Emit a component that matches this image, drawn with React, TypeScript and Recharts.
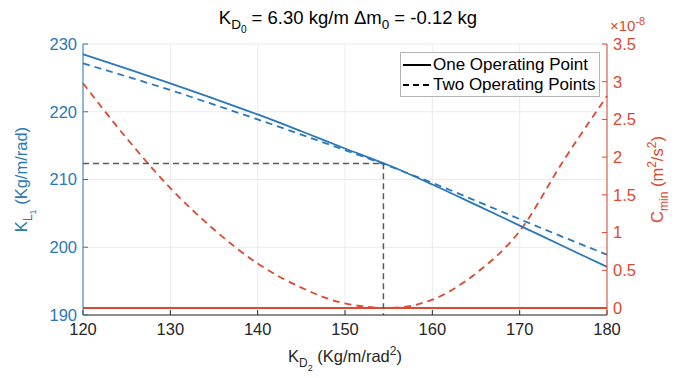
import React from 'react';
import {
  ComposedChart,
  Line,
  XAxis,
  YAxis,
  CartesianGrid,
  Legend,
  Label,
} from 'recharts';

const FONT = '"Liberation Sans", Arial, Helvetica, sans-serif';
const BLUE = '#2a78b8';
const RED = '#de4830';
const INK = '#262626';

// K_D2 samples (Kg/m/rad^2)
const kd2 = [120, 125, 130, 135, 140, 145, 150, 155, 160, 165, 170, 175, 180];
// K_L1 for one operating point (solid blue)
const kl1One = [228.48, 226.38, 224.19, 221.93, 219.6, 217.12, 214.58, 212.1, 209.26, 206.25, 203.2, 200.15, 197.1];
// K_L1 for two operating points (dashed blue)
const kl1Two = [227.15, 225.2, 223.2, 221.05, 218.87, 216.62, 214.33, 212.0, 209.5, 206.85, 204.15, 201.5, 198.9];
// C_min (x1e-8 m^2/s^2) one operating point (solid red)
const cminOne = [0, 0, 0, 0, 0, 0, 0, 0, 0, 0, 0, 0, 0];
// C_min (x1e-8 m^2/s^2) two operating points (dashed red)
const cminTwo = [2.98, 2.25, 1.59, 1.04, 0.59, 0.27, 0.06, 0.0, 0.11, 0.46, 1.02, 1.95, 2.81];

const xTicks = [120, 130, 140, 150, 160, 170, 180];
const leftTicks = [190, 200, 210, 220, 230];
const rightTicks = [0, 0.5, 1, 1.5, 2, 2.5, 3, 3.5];
const leftDomain = [190, 230];
const rightDomain = [-0.093, 3.5];

// operating point marker
const opKd2 = 154.4;
const opKl1 = 212.35;

const chartData = kd2.map((x, i) => ({
  x,
  one: kl1One[i],
  two: kl1Two[i],
  cOne: cminOne[i],
  cTwo: cminTwo[i],
}));

const opData = [
  { x: kd2[0], y: opKl1 },
  { x: opKd2, y: opKl1 },
  { x: opKd2, y: leftDomain[0] },
];

const XTitle = (props: any) => {
  const vb = props.viewBox || { x: 83, y: 315, width: 524, height: 63 };
  const cx = vb.x + vb.width / 2;
  const y = vb.y + 47;
  return (
    <g>
      <text x={cx} y={y} textAnchor="middle" fontSize={16.5} fill={INK} fontFamily={FONT}>
        K<tspan fontSize={12} dy={5}>D</tspan>
        <tspan fontSize={9} dy={4}>2</tspan>
        <tspan fontSize={16.5} dy={-9}>{'\u00a0(Kg/m/rad'}</tspan>
        <tspan fontSize={12} dy={-7}>2</tspan>
        <tspan fontSize={16.5} dy={7}>)</tspan>
      </text>
      <text x={cx + 3} y={24} textAnchor="middle" fontSize={18.5} fill="#000" fontFamily={FONT}>
        K<tspan fontSize={13.5} dy={5}>D</tspan>
        <tspan fontSize={10} dy={4}>0</tspan>
        <tspan fontSize={18.5} dy={-9}>{'\u00a0= 6.30 kg/m \u0394m'}</tspan>
        <tspan fontSize={13.5} dy={5}>0</tspan>
        <tspan fontSize={18.5} dy={-5}>{'\u00a0= -0.12 kg'}</tspan>
      </text>
    </g>
  );
};

const LeftTitle = (props: any) => {
  const vb = props.viewBox || { x: 0, y: 44, width: 83, height: 271 };
  const cy = vb.y + vb.height / 2;
  const bx = vb.x + 27;
  return (
    <text
      x={bx}
      y={cy}
      transform={`rotate(-90 ${bx} ${cy})`}
      textAnchor="middle"
      fontSize={16.5}
      fill={BLUE}
      fontFamily={FONT}
    >
      K<tspan fontSize={12} dy={5}>L</tspan>
      <tspan fontSize={9} dy={4}>1</tspan>
      <tspan fontSize={16.5} dy={-9}>{'\u00a0(Kg/m/rad)'}</tspan>
    </text>
  );
};

const RightTitle = (props: any) => {
  const vb = props.viewBox || { x: 607, y: 44, width: 90, height: 271 };
  const cy = vb.y + vb.height / 2;
  const bx = vb.x + 56;
  return (
    <g>
      <text
        x={bx}
        y={cy}
        transform={`rotate(-90 ${bx} ${cy})`}
        textAnchor="middle"
        fontSize={16.5}
        fill={RED}
        fontFamily={FONT}
      >
        C<tspan fontSize={12} dy={5}>min</tspan>
        <tspan fontSize={16.5} dy={-5}>{'\u00a0(m'}</tspan>
        <tspan fontSize={12} dy={-7}>2</tspan>
        <tspan fontSize={16.5} dy={7}>/s</tspan>
        <tspan fontSize={12} dy={-7}>2</tspan>
        <tspan fontSize={16.5} dy={7}>)</tspan>
      </text>
      <text x={vb.x + 3} y={vb.y - 13} fontSize={15} fill={RED} fontFamily={FONT}>
        ×10<tspan fontSize={11} dy={-6}>-8</tspan>
      </text>
    </g>
  );
};

const legendItems = [
  { label: 'One Operating Point', dash: undefined as string | undefined },
  { label: 'Two Operating Points', dash: '6 4' },
];

const LegendBox = () => (
  <div
    style={{
      width: 200,
      height: 45,
      boxSizing: 'border-box',
      border: '1px solid #b4b4b4',
      background: '#fff',
      fontFamily: FONT,
      fontSize: 17,
      color: '#000',
      paddingTop: 2,
    }}
  >
    {legendItems.map((it) => (
      <div key={it.label} style={{ display: 'flex', alignItems: 'center', height: 20, whiteSpace: 'nowrap' }}>
        <svg width={32} height={20} style={{ flex: 'none' }}>
          <line x1={2} x2={30} y1={10} y2={10} stroke="#000" strokeWidth={2} strokeDasharray={it.dash} />
        </svg>
        <span style={{ lineHeight: '20px' }}>{it.label}</span>
      </div>
    ))}
  </div>
);

export default function App() {
  return (
    <div style={{ position: 'absolute', left: 0, top: 0, width: 697, height: 378, background: '#fff', fontFamily: FONT }}>
      <ComposedChart width={697} height={378} data={chartData} margin={{ top: 44, right: 0, bottom: 0, left: 0 }}>
        <CartesianGrid yAxisId="left" stroke="#ebebeb" strokeWidth={1} vertical horizontal />
        <XAxis
          dataKey="x"
          type="number"
          domain={[120, 180]}
          ticks={xTicks}
          height={63}
          stroke={INK}
          tickSize={-5}
          tickMargin={13}
          tick={{ fill: INK, fontSize: 16.5 }}
          interval={0}
        >
          <Label content={<XTitle />} />
        </XAxis>
        <XAxis
          xAxisId="top"
          dataKey="x"
          type="number"
          orientation="top"
          domain={[120, 180]}
          ticks={xTicks}
          height={0}
          stroke={INK}
          tickSize={-5}
          tickFormatter={() => ''}
          interval={0}
        />
        <YAxis
          yAxisId="left"
          orientation="left"
          width={83}
          domain={leftDomain}
          ticks={leftTicks}
          stroke={BLUE}
          tickSize={-5}
          tickMargin={11}
          tick={{ fill: BLUE, fontSize: 16.5 }}
          interval={0}
          allowDataOverflow
        >
          <Label content={<LeftTitle />} />
        </YAxis>
        <YAxis
          yAxisId="right"
          orientation="right"
          width={90}
          domain={rightDomain}
          ticks={rightTicks}
          stroke={RED}
          tickSize={-5}
          tickMargin={11}
          tick={{ fill: RED, fontSize: 16.5 }}
          interval={0}
          allowDataOverflow
        >
          <Label content={<RightTitle />} />
        </YAxis>
        <Line yAxisId="right" dataKey="cTwo" type="monotone" stroke={RED} strokeWidth={1.8} strokeDasharray="7 5" dot={false} isAnimationActive={false} />
        <Line yAxisId="right" dataKey="cOne" type="linear" stroke={RED} strokeWidth={2} dot={false} isAnimationActive={false} />
        <Line yAxisId="left" dataKey="two" type="monotone" stroke={BLUE} strokeWidth={1.8} strokeDasharray="7 5" dot={false} isAnimationActive={false} />
        <Line yAxisId="left" dataKey="one" type="monotone" stroke={BLUE} strokeWidth={1.8} dot={false} isAnimationActive={false} />
        <Line yAxisId="left" data={opData} dataKey="y" type="linear" stroke="#5a5a5a" strokeWidth={1.5} strokeDasharray="6 4" dot={false} isAnimationActive={false} />
        <Legend
          layout="vertical"
          verticalAlign="middle"
          align="center"
          content={() => <LegendBox />}
          wrapperStyle={{ position: 'absolute', left: 400, top: 52, width: 200, height: 45, margin: 0 }}
        />
      </ComposedChart>
    </div>
  );
}
